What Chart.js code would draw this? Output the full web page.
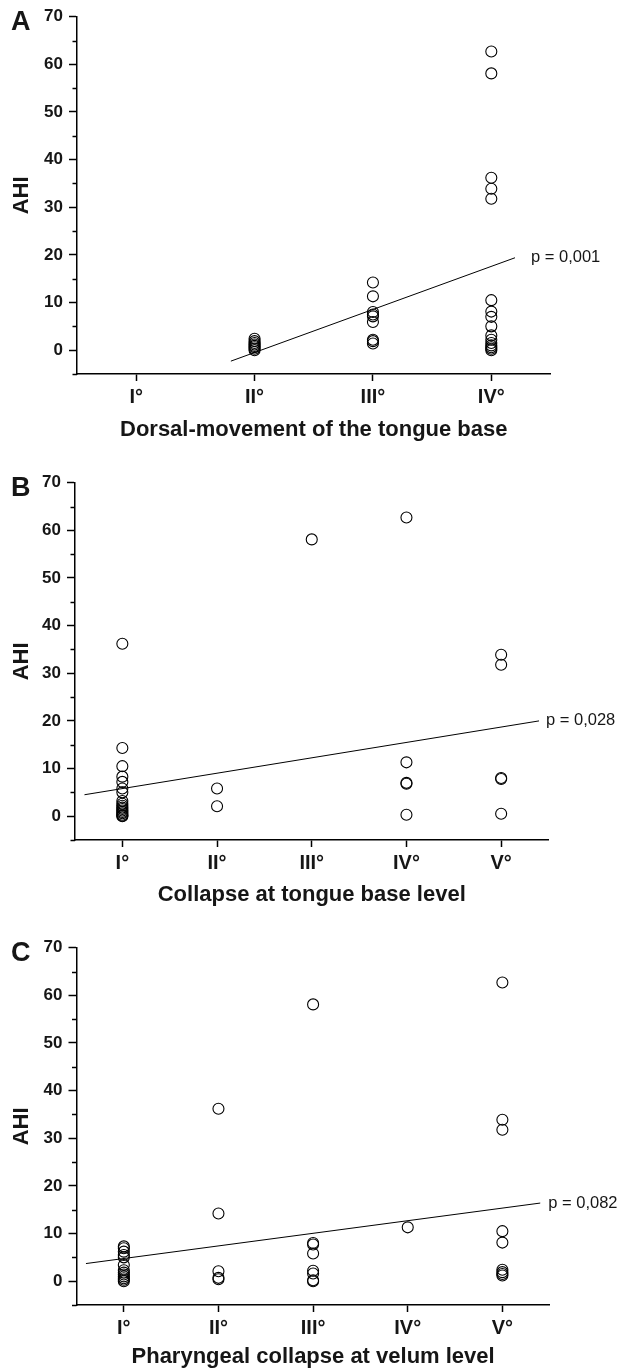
<!DOCTYPE html>
<html>
<head>
<meta charset="utf-8">
<script src="https://cdn.jsdelivr.net/npm/chart.js@4.4.1/dist/chart.umd.min.js"></script>
<style>
  body { margin: 0; background: #fff; }
  canvas { display: block; }
</style>
</head>
<body>
<canvas id="chartA" width="621" height="455"></canvas>
<canvas id="chartB" width="621" height="455"></canvas>
<canvas id="chartC" width="621" height="461"></canvas>
<script>
// ---- values: AHI of each patient per grade ----
const gradesA = ['I°', 'II°', 'III°', 'IV°'];
const gradesBC = ['I°', 'II°', 'III°', 'IV°', 'V°'];

const ahiA = [
  [],
  [0.0, 0.3, 0.6, 0.9, 1.2, 1.5, 1.9, 2.4],
  [14.2, 11.3, 8.0, 7.5, 7.1, 5.9, 2.2, 1.9, 1.4],
  [62.7, 58.1, 36.2, 33.9, 31.8, 10.5, 8.1, 7.0, 5.0, 3.1, 2.2, 1.5, 1.0, 0.6, 0.3, 0.0]
];
const ahiB = [
  [36.2, 14.3, 10.5, 8.3, 7.2, 5.8, 5.0, 3.2, 2.6, 2.2, 1.8, 1.5, 1.2, 0.9, 0.6, 0.3, 0.1, 0.0],
  [5.8, 2.1],
  [58.1],
  [62.7, 11.3, 7.0, 6.8, 0.3],
  [33.9, 31.8, 8.0, 7.8, 0.5]
];
const ahiC = [
  [7.3, 6.9, 6.2, 5.5, 5.0, 3.4, 2.3, 1.8, 1.4, 1.0, 0.6, 0.3, 0.0],
  [36.2, 14.2, 2.1, 0.7, 0.4],
  [58.1, 8.0, 7.7, 5.8, 2.2, 1.6, 0.2, 0.0],
  [11.3],
  [62.7, 33.9, 31.8, 10.5, 8.1, 2.4, 1.9, 1.5, 1.2]
];

// regression lines: [grade position, AHI] at both ends
const fitA = [[1.8, -2.3], [4.2, 19.4]];
const fitB = [[0.6, 4.5], [5.4, 20.0]];
const fitC = [[0.6, 3.7], [5.4, 16.4]];

const pValues = ['p = 0,001', 'p = 0,028', 'p = 0,082'];
const axisTitles = [
  'Dorsal-movement of the tongue base',
  'Collapse at tongue base level',
  'Pharyngeal collapse at velum level'
];
const yMin = -5, yMax = 70, yStep = 5;

const FONT = '"Liberation Sans", Arial, Helvetica, sans-serif';
const INK = '#161616';

// minor y ticks, p label and panel letter
const extras = {
  id: 'extras',
  afterDraw(chart, args, opts) {
    const { ctx, chartArea, scales: { x, y } } = chart;
    ctx.save();
    ctx.strokeStyle = '#000';
    ctx.lineWidth = 1.5;
    y.ticks.forEach(t => {
      if (t.value % 10 === 0) return;
      const py = Math.round(y.getPixelForValue(t.value)) + 0.5;
      ctx.beginPath();
      ctx.moveTo(chartArea.left - 4.5, py);
      ctx.lineTo(chartArea.left, py);
      ctx.stroke();
    });
    const end = opts.fit[1];
    ctx.fillStyle = INK;
    ctx.font = '16.5px ' + FONT;
    ctx.textBaseline = 'middle';
    ctx.textAlign = 'left';
    ctx.fillText(opts.p, x.getPixelForValue(end[0]) + opts.gap, y.getPixelForValue(end[1]));
    ctx.font = 'bold 27px ' + FONT;
    ctx.textBaseline = 'alphabetic';
    ctx.fillText(opts.letter, 11, chartArea.top + 13);
    ctx.restore();
  }
};

function makePanel(id, cfg) {
  const points = [];
  cfg.data.forEach((vals, i) => vals.forEach(v => points.push({ x: i + 1, y: v })));

  new Chart(document.getElementById(id), {
    type: 'scatter',
    data: {
      datasets: [{
        data: points,
        pointRadius: 5.5,
        pointBorderWidth: 1.1,
        borderColor: '#000',
        backgroundColor: 'rgba(0,0,0,0)',
        pointHoverRadius: 5.5
      }, {
        type: 'line',
        data: cfg.fit.map(p => ({ x: p[0], y: p[1] })),
        borderColor: '#000',
        borderWidth: 1,
        pointRadius: 0,
        fill: false
      }]
    },
    options: {
      responsive: false,
      animation: false,
      events: [],
      layout: { padding: { top: cfg.padTop, right: cfg.padRight, left: 0, bottom: 0 } },
      plugins: {
        legend: { display: false },
        tooltip: { enabled: false },
        extras: { fit: cfg.fit, p: cfg.p, gap: cfg.gap, letter: cfg.letter }
      },
      scales: {
        x: {
          type: 'linear',
          min: 0.5,
          max: cfg.cats.length + 0.5,
          afterBuildTicks: s => { s.ticks = cfg.cats.map((c, i) => ({ value: i + 1 })); },
          afterFit: s => { s.height = cfg.axisH; },
          border: { display: true, color: '#000', width: 1.5 },
          grid: { drawOnChartArea: false, drawTicks: true, tickLength: 7, tickColor: '#000', tickWidth: 1.5 },
          ticks: {
            color: INK,
            padding: 4.5,
            font: { family: FONT, size: 20, weight: 'bold' },
            callback: v => cfg.cats[Math.round(v) - 1]
          },
          title: {
            display: true,
            text: cfg.title,
            color: INK,
            font: { family: FONT, size: 22, weight: 'bold' },
            padding: { top: 0, bottom: cfg.titlePad }
          }
        },
        y: {
          min: yMin,
          max: yMax,
          afterFit: s => { s.width = cfg.left; },
          border: { display: true, color: '#000', width: 1.5 },
          grid: {
            drawOnChartArea: false,
            drawTicks: true,
            tickLength: 8,
            tickWidth: 1.5,
            tickColor: c => (c.tick && c.tick.value % 10 === 0) ? '#000' : 'rgba(0,0,0,0)'
          },
          ticks: {
            stepSize: yStep,
            color: INK,
            padding: 6,
            font: { family: FONT, size: 17, weight: 'bold' },
            callback: v => (v % 10 === 0 ? v : '')
          },
          title: {
            display: true,
            text: 'AHI',
            color: INK,
            font: { family: FONT, size: 22, weight: 'bold' },
            padding: { top: 8.8, bottom: 0 }
          }
        }
      }
    },
    plugins: [extras]
  });
}

makePanel('chartA', {
  letter: 'A', cats: gradesA, data: ahiA, fit: fitA, p: pValues[0], title: axisTitles[0],
  padTop: 16.7, left: 77, padRight: 70.5, axisH: 81, titlePad: 11.8, gap: 16
});
makePanel('chartB', {
  letter: 'B', cats: gradesBC, data: ahiB, fit: fitB, p: pValues[1], title: axisTitles[1],
  padTop: 27.7, left: 75, padRight: 72.5, axisH: 70, titlePad: 1.8, gap: 7
});
makePanel('chartC', {
  letter: 'C', cats: gradesBC, data: ahiC, fit: fitC, p: pValues[2], title: axisTitles[2],
  padTop: 37.7, left: 76.5, padRight: 71.3, axisH: 66, titlePad: 0.8, gap: 8
});
</script>
</body>
</html>
